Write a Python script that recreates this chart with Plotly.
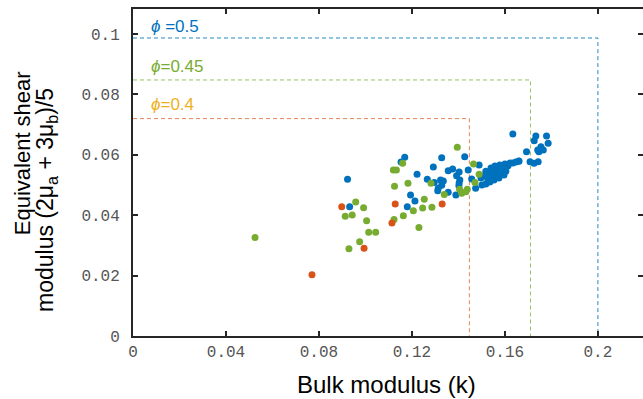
import plotly.graph_objects as go

# ---------------- data ----------------
phi_values = [0.5, 0.45, 0.4]
k_bounds = [0.2, 0.171, 0.1447]
mu_bounds = [0.0987, 0.0848, 0.0720]

blue_k = [0.0923, 0.0932, 0.1169, 0.1153, 0.1328, 0.1427, 0.1292, 0.1222, 0.1356, 0.1375,
          0.1403, 0.1392, 0.1406, 0.1403, 0.1442, 0.1266, 0.1296, 0.1323, 0.1335, 0.1328,
          0.1313, 0.1311, 0.1457, 0.1194, 0.1356, 0.1389, 0.1213, 0.1180, 0.1402, 0.1474,
          0.1501, 0.1489,
          0.1510, 0.1518, 0.1527, 0.1531, 0.1540, 0.1544, 0.1553, 0.1557, 0.1566, 0.1570,
          0.1578, 0.1583, 0.1591, 0.1600, 0.1604, 0.1613, 0.1622, 0.1634, 0.1647, 0.1660,
          0.1518, 0.1535, 0.1497, 0.1553, 0.1574, 0.1596, 0.1561, 0.1523,
          0.1634, 0.1733, 0.1726, 0.1779, 0.1786, 0.1755, 0.1746, 0.1765, 0.1741, 0.1693,
          0.1708, 0.1725, 0.1743, 0.1660]
blue_mu = [0.0519, 0.0428, 0.0592, 0.0576, 0.0590, 0.0594, 0.0560, 0.0536, 0.0547, 0.0553,
           0.0543, 0.0531, 0.0517, 0.0507, 0.0550, 0.0519, 0.0508, 0.0517, 0.0513, 0.0499,
           0.0489, 0.0481, 0.0520, 0.0467, 0.0476, 0.0467, 0.0447, 0.0428, 0.0498, 0.0489,
           0.0500, 0.0566,
           0.0530, 0.0546, 0.0517, 0.0536, 0.0556, 0.0526, 0.0543, 0.0563, 0.0533, 0.0553,
           0.0566, 0.0543, 0.0556, 0.0570, 0.0546, 0.0563, 0.0573, 0.0573, 0.0576, 0.0579,
           0.0503, 0.0510, 0.0523, 0.0517, 0.0523, 0.0533, 0.0550, 0.0530,
           0.0669, 0.0662, 0.0647, 0.0662, 0.0638, 0.0627, 0.0610, 0.0616, 0.0616, 0.0610,
           0.0577, 0.0572, 0.0577, 0.0580]

green_k = [0.0525, 0.1120, 0.1133, 0.1160, 0.1395, 0.1465, 0.1489, 0.1471, 0.1183, 0.1125,
           0.1282, 0.1253, 0.1206, 0.1246, 0.1286, 0.1163, 0.1123, 0.0958, 0.0992, 0.0913,
           0.0943, 0.1005, 0.1230, 0.1014, 0.1044, 0.0975, 0.0929, 0.1339, 0.1405, 0.1414,
           0.1432, 0.1438]
green_mu = [0.0326, 0.0550, 0.0550, 0.0572, 0.0625, 0.0570, 0.0536, 0.0508, 0.0506, 0.0496,
            0.0506, 0.0453, 0.0415, 0.0424, 0.0426, 0.0398, 0.0386, 0.0444, 0.0425, 0.0397,
            0.0401, 0.0382, 0.0359, 0.0344, 0.0344, 0.0312, 0.0289, 0.0469, 0.0486, 0.0473,
            0.0478, 0.0486]

orange_k = [0.0770, 0.0898, 0.0994, 0.1114, 0.1128, 0.1330]
orange_mu = [0.0203, 0.0428, 0.0291, 0.0374, 0.0437, 0.0437]

x_ticks = [0, 0.04, 0.08, 0.12, 0.16, 0.2]
x_ticklabels = ["0", "0.04", "0.08", "0.12", "0.16", "0.2"]
y_ticks = [0, 0.02, 0.04, 0.06, 0.08, 0.1]
y_ticklabels = ["0", "0.02", "0.04", "0.06", "0.08", "0.1"]

# ---------------- styles ----------------
series_colors = ["#0072BD", "#77AC30", "#D95319"]
dash_colors = ["rgba(0,114,189,0.85)", "rgba(119,172,48,0.75)", "rgba(217,83,25,0.7)"]
label_colors = ["#0072BD", "#77AC30", "#EDB120"]
AX = "#262626"

fig = go.Figure()

# dashed bound boxes
for kb, mb, c in zip(k_bounds, mu_bounds, dash_colors):
    fig.add_trace(go.Scatter(x=[0, kb, kb], y=[mb, mb, 0], mode="lines",
                             line=dict(color=c, width=1, dash="4px,3px"),
                             showlegend=False, hoverinfo="skip"))

for xs, ys, c in [(blue_k, blue_mu, series_colors[0]),
                  (green_k, green_mu, series_colors[1]),
                  (orange_k, orange_mu, series_colors[2])]:
    fig.add_trace(go.Scatter(x=xs, y=ys, mode="markers",
                             marker=dict(color=c, size=7, line=dict(width=0)),
                             showlegend=False))

# invisible trace for right-hand tick axis
fig.add_trace(go.Scatter(x=[None], y=[None], yaxis="y2", showlegend=False))

XR = [0, 0.2194]
YR = [0, 0.1083]

tickfont = dict(family="Liberation Mono", size=16, color="#555555")
fig.update_layout(
    width=643, height=399,
    margin=dict(l=133, r=0, t=9, b=63),
    paper_bgcolor="white", plot_bgcolor="white",
    xaxis=dict(range=XR, tickvals=x_ticks, ticktext=x_ticklabels, showgrid=False,
               zeroline=False, showline=True, linecolor=AX, linewidth=2,
               mirror="ticks", ticks="inside", ticklen=5, tickwidth=2, tickcolor=AX,
               tickfont=tickfont),
    yaxis=dict(range=YR, tickvals=y_ticks, ticktext=y_ticklabels, showgrid=False,
               zeroline=False, showline=True, linecolor=AX, linewidth=2,
               mirror=False, ticks="inside", ticklen=5, tickwidth=2, tickcolor=AX,
               tickfont=tickfont, ticklabelstandoff=8),
    yaxis2=dict(range=YR, overlaying="y", side="right", tickvals=y_ticks,
                showticklabels=False, showgrid=False, zeroline=False, showline=False,
                ticks="inside", ticklen=5, tickwidth=2, tickcolor=AX),
    font=dict(family="Liberation Sans", color="#000000"),
)

annotations = []
label_y = [0.1025, 0.0894, 0.0767]
for phi, yy, c in zip(phi_values, label_y, label_colors):
    sep = " " if phi == 0.5 else ""
    annotations.append(dict(x=0.0069, y=yy, xref="x", yref="y", xanchor="left", yanchor="middle",
                            text=f"<i>ϕ</i>{sep}={phi:g}", showarrow=False,
                            font=dict(family="Liberation Sans", size=17, color=c)))

annotations.append(dict(x=0.498, y=-0.1468, xref="paper", yref="paper", xanchor="center",
                        yanchor="middle", text="Bulk modulus (k)", showarrow=False,
                        font=dict(family="Liberation Sans", size=24, color="#000000")))
annotations.append(dict(x=-0.2176, y=0.559, xref="paper", yref="paper", xanchor="center",
                        yanchor="middle", text="Equivalent shear", textangle=-90,
                        showarrow=False,
                        font=dict(family="Liberation Sans", size=22, color="#000000")))
annotations.append(dict(x=-0.1686, y=0.416, xref="paper", yref="paper", xanchor="center",
                        yanchor="middle",
                        text="modulus (2μ<sub>a</sub> + 3μ<sub>b</sub>)/5",
                        textangle=-90, showarrow=False,
                        font=dict(family="Liberation Sans", size=23, color="#000000")))
fig.update_layout(annotations=annotations)

fig.write_html("out.html",
               config={"displayModeBar": False},
               post_script="document.body.style.margin='0px';document.body.style.overflow='hidden';")
